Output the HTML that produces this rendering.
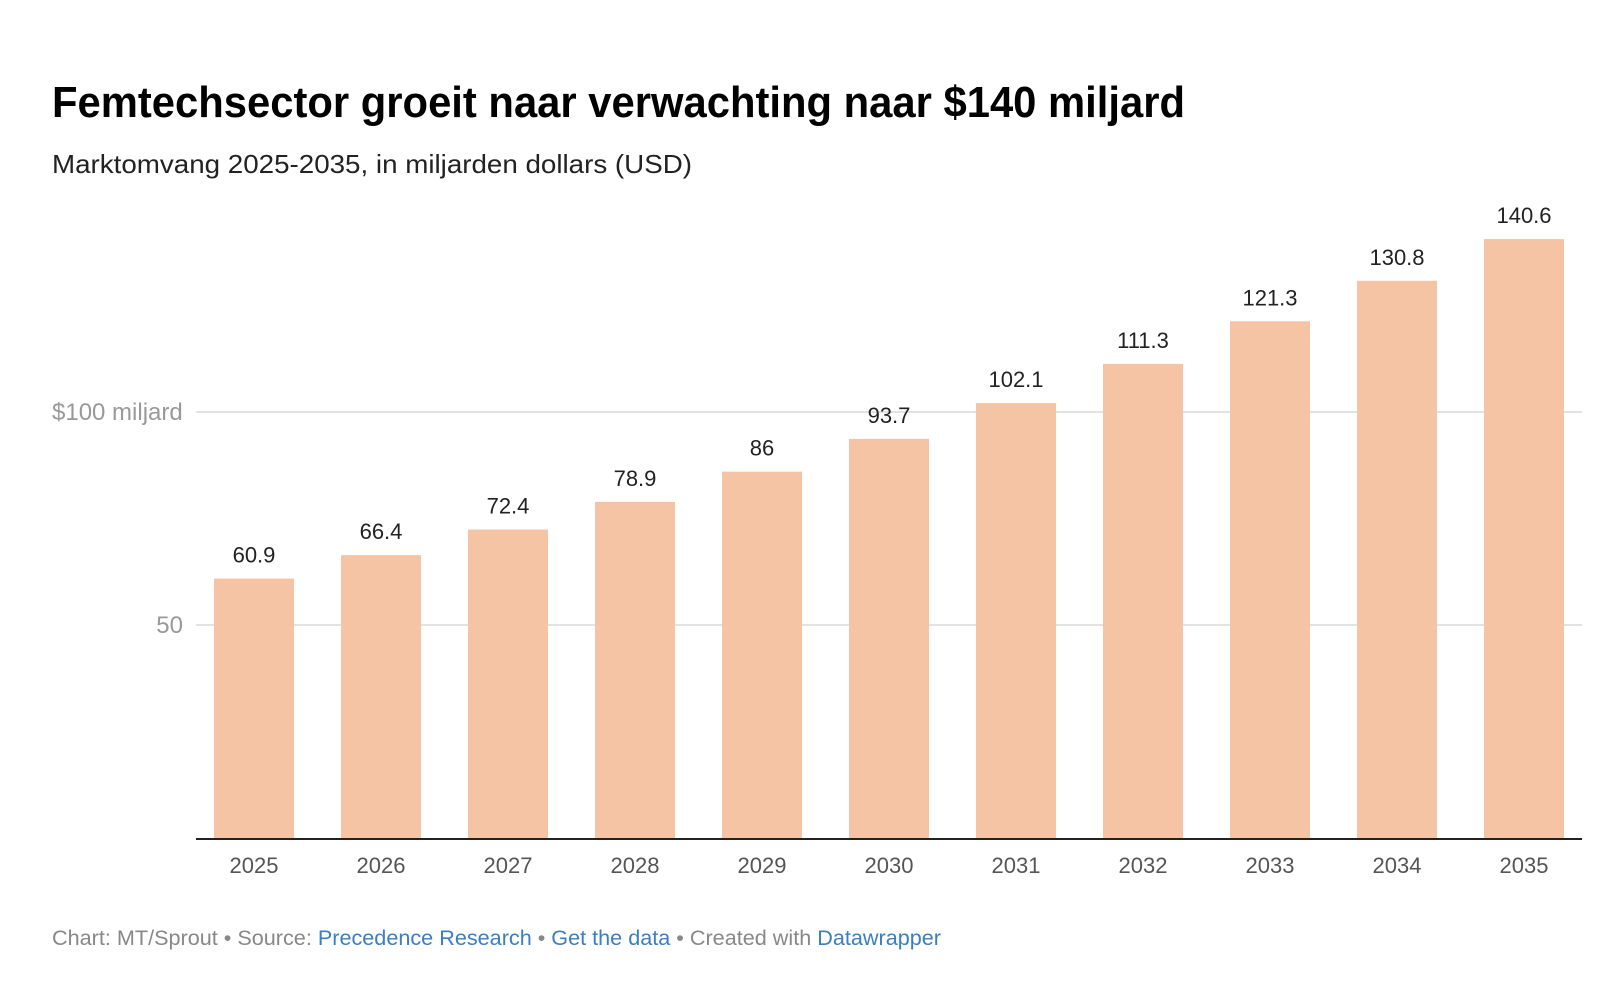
<!DOCTYPE html>
<html><head><meta charset="utf-8"><style>
html,body{margin:0;padding:0;background:#fff;}
svg{display:block;font-family:"Liberation Sans",Arial,sans-serif;}
</style></head><body>
<svg id="chart" width="1618" height="984" viewBox="0 0 1618 984">
<text x="52" y="117" font-size="44" font-weight="bold" fill="#000" textLength="1133" lengthAdjust="spacingAndGlyphs">Femtechsector groeit naar verwachting naar $140 miljard</text>
<text x="52" y="173" font-size="26" fill="#222" textLength="640" lengthAdjust="spacingAndGlyphs">Marktomvang 2025-2035, in miljarden dollars (USD)</text>
<g id="grid"></g>
<g id="bars"></g>
<line x1="196" x2="1582" y1="839" y2="839" stroke="#222" stroke-width="2"/>
<text x="52" y="945" font-size="21" fill="#888" textLength="889" lengthAdjust="spacingAndGlyphs">Chart: MT/Sprout • Source: <tspan fill="#3a7fc1">Precedence Research</tspan> • <tspan fill="#3a7fc1">Get the data</tspan> • Created with <tspan fill="#3a7fc1">Datawrapper</tspan></text>
</svg>
<script>
const categories=["2025","2026","2027","2028","2029","2030","2031","2032","2033","2034","2035"];
const values=[60.9,66.4,72.4,78.9,86,93.7,102.1,111.3,121.3,130.8,140.6];
const labels=["60.9","66.4","72.4","78.9","86","93.7","102.1","111.3","121.3","130.8","140.6"];
const ticks=[50,100];
const tickLabels=["50","$100 miljard"];
const NS="http://www.w3.org/2000/svg";
const y0=838, pxPer=4.26, left=196, step=127, bw=80, firstC=254;
const y=v=>y0-v*pxPer;
const x=i=>firstC+i*step;
function mk(t,a,p){const e=document.createElementNS(NS,t);for(const k in a)e.setAttribute(k,a[k]);p.appendChild(e);return e;}
const grid=document.getElementById('grid'), bars=document.getElementById('bars');
ticks.forEach((t,i)=>{
  const l=mk('line',{x1:left,x2:1582,y1:y(t),y2:y(t),stroke:'#e3e3e3','stroke-width':2},grid);
  
  
  const tx=mk('text',{x:i==1?52:183,y:y(t)+8,'font-size':24,fill:'#999','text-anchor':i==1?'start':'end'},grid);
  tx.textContent=tickLabels[i];
  
  
});
values.forEach((v,i)=>{
  const r=mk('rect',{x:x(i)-bw/2,y:y(v),width:bw,height:y0-y(v),fill:'#f5c4a5'},bars);
  
  
  const vl=mk('text',{x:x(i),y:y(v)-16,'font-size':22,fill:'#222','text-anchor':'middle'},bars);
  vl.textContent=labels[i];
  
  
  const cl=mk('text',{x:x(i),y:873,'font-size':22,fill:'#555','text-anchor':'middle'},bars);
  cl.textContent=categories[i];
  
  
});
</script>
</body></html>
